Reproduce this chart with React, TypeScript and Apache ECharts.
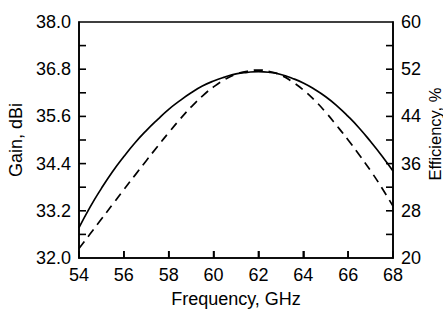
import React, { useEffect, useRef } from "react";
import * as echarts from "echarts";

const frequencies = [54.0, 54.5, 55.0, 55.5, 56.0, 56.5, 57.0, 57.5, 58.0, 58.5, 59.0, 59.5, 60.0, 60.5, 61.0, 61.5, 62.0, 62.5, 63.0, 63.5, 64.0, 64.5, 65.0, 65.5, 66.0, 66.5, 67.0, 67.5, 68.0];
const gainDbi = [32.77, 33.3, 33.77, 34.2, 34.58, 34.93, 35.24, 35.52, 35.78, 36.0, 36.2, 36.37, 36.5, 36.6, 36.68, 36.72, 36.74, 36.72, 36.665, 36.57, 36.45, 36.29, 36.1, 35.87, 35.6, 35.3, 34.96, 34.6, 34.21];
const efficiencyPct = [21.6, 24.1, 26.6, 29.1, 31.6, 34.05, 36.5, 38.9, 41.25, 43.5, 45.6, 47.45, 49.0, 50.25, 51.15, 51.65, 51.85, 51.6, 51.0, 49.9, 48.5, 46.75, 44.7, 42.4, 40.0, 37.45, 34.8, 31.9, 28.8];

const xTicks = { min: 54, max: 68, interval: 2 };
const gainTicks = { min: 32.0, max: 38.0, interval: 1.2 };
const effTicks = { min: 20, max: 60, interval: 8 };

const FONT = "Liberation Sans";
const FS = 18;
const TICK_LEN = 7;
const TICK_W = 1.6;

const mkLine = () => ({ show: true, onZero: false, lineStyle: { color: "#000", width: 1.6 } });
const mkLabel = (size: number) => ({ color: "#000", fontFamily: FONT, fontSize: size });

function tickValues(t: { min: number; max: number; interval: number }, sub: number) {
  const out: number[] = [];
  const step = t.interval / sub;
  const n = Math.round((t.max - t.min) / step);
  for (let i = 1; i < n; i++) out.push(+(t.min + i * step).toFixed(4));
  return out;
}

// Tick marks as small filled rectangles, placed through the axes' scales
function tickSeries(yAxisIndex: number, data: number[][], dir: "up" | "right" | "left") {
  return {
    type: "custom",
    yAxisIndex,
    silent: true,
    clip: false,
    z: 50,
    data,
    renderItem: (_params: any, api: any) => {
      const p = api.coord([api.value(0), api.value(1)]);
      let shape;
      if (dir === "up") shape = { x: p[0] - TICK_W / 2, y: p[1] - TICK_LEN, width: TICK_W, height: TICK_LEN };
      else if (dir === "right") shape = { x: p[0], y: p[1] - TICK_W / 2, width: TICK_LEN, height: TICK_W };
      else shape = { x: p[0] - TICK_LEN, y: p[1] - TICK_W / 2, width: TICK_LEN, height: TICK_W };
      return { type: "rect", shape, style: { fill: "#000" } };
    },
  };
}

export default function App() {
  const ref = useRef<HTMLDivElement>(null);
  useEffect(() => {
    if (!ref.current) return;
    const chart = echarts.init(ref.current, undefined, { renderer: "svg" });
    chart.setOption({
      animation: false,
      backgroundColor: "#fff",
      grid: {
        left: 79,
        right: 50,
        top: 22,
        bottom: 54,
        show: true,
        borderColor: "#000",
        borderWidth: 1.6,
        containLabel: false,
        outerBoundsMode: "none",
      },
      graphic: [
        {
          type: "text",
          x: 435,
          y: 134,
          rotation: Math.PI / 2,
          style: {
            text: "Efficiency, %",
            fill: "#000",
            font: `16.5px "${FONT}"`,
            align: "center",
            verticalAlign: "middle",
          },
        },
      ],
      xAxis: {
        type: "value",
        min: xTicks.min,
        max: xTicks.max,
        interval: xTicks.interval,
        name: "Frequency, GHz",
        nameLocation: "middle",
        nameGap: 32,
        nameTextStyle: mkLabel(FS),
        axisLine: mkLine(),
        axisTick: { show: true, inside: true, length: TICK_LEN, lineStyle: { color: "#000", width: TICK_W } },
        splitLine: { show: false },
        axisLabel: { ...mkLabel(FS), margin: 8 },
      },
      yAxis: [
        {
          type: "value",
          position: "left",
          min: gainTicks.min,
          max: gainTicks.max,
          interval: gainTicks.interval,
          name: "Gain, dBi",
          nameLocation: "middle",
          nameRotate: 90,
          nameGap: 50,
          nameTextStyle: mkLabel(FS),
          axisLine: mkLine(),
          axisTick: { show: false },
          splitLine: { show: false },
          axisLabel: { ...mkLabel(FS), margin: 8, formatter: (v: number) => v.toFixed(1) },
        },
        {
          type: "value",
          position: "right",
          min: effTicks.min,
          max: effTicks.max,
          interval: effTicks.interval,
          axisLine: mkLine(),
          axisTick: { show: false },
          splitLine: { show: false },
          axisLabel: { ...mkLabel(FS), margin: 8, formatter: (v: number) => String(Math.round(v)) },
        },
      ],
      series: [
        {
          name: "Gain",
          type: "line",
          yAxisIndex: 0,
          smooth: true,
          showSymbol: false,
          data: frequencies.map((f, i) => [f, gainDbi[i]]),
          lineStyle: { color: "#000", width: 1.7, type: "solid" },
        },
        {
          name: "Efficiency",
          type: "line",
          yAxisIndex: 1,
          smooth: true,
          showSymbol: false,
          data: frequencies.map((f, i) => [f, efficiencyPct[i]]),
          lineStyle: { color: "#000", width: 1.7, type: [9, 6] },
        },
        tickSeries(0, tickValues(xTicks, 1).map((v) => [v, gainTicks.min]), "up"),
        tickSeries(0, tickValues(gainTicks, 2).map((v) => [xTicks.min, v]), "right"),
        tickSeries(1, tickValues(effTicks, 2).map((v) => [xTicks.max, v]), "left"),
      ],
    });
    return () => chart.dispose();
  }, []);
  return (
    <div
      ref={ref}
      style={{ position: "fixed", left: 0, top: 0, width: 443, height: 312, background: "#fff" }}
    />
  );
}
